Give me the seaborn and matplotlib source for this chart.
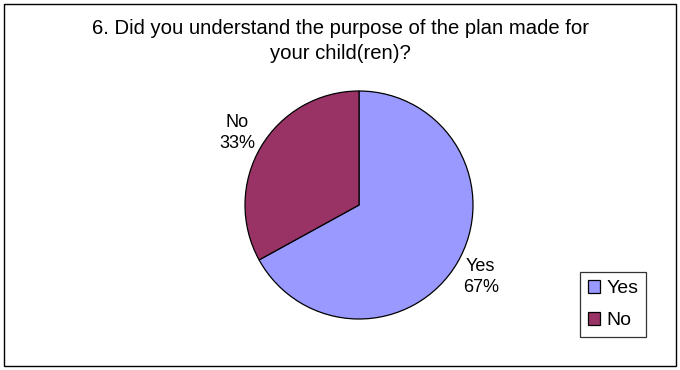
import matplotlib
matplotlib.use("Agg")
import matplotlib.pyplot as plt
import seaborn as sns
from matplotlib.patches import Rectangle

categories = ["Yes", "No"]
values = [67, 33]
colors = ["#9999FF", "#993366"]
title = "6. Did you understand the purpose of the plan made for\nyour child(ren)?"

sns.set_theme(style="white")
plt.rcParams['font.family'] = ['Liberation Sans', 'DejaVu Sans']
plt.rcParams['text.color'] = 'black'

fig = plt.figure(figsize=(6.8, 3.7), dpi=100)
fig.patch.set_facecolor("white")
fig.patches.append(Rectangle((4/680, 4/370), 672/680, 362/370, transform=fig.transFigure,
                             fill=False, edgecolor="black", linewidth=1))

ax = fig.add_axes([245/680, 51/370, 228/680, 228/370])
labels = [f"{c}\n{v}%" for c, v in zip(categories, values)]
wedges, texts = ax.pie(values, labels=labels, colors=colors, startangle=90, counterclock=False,
                       labeldistance=1.24,
                       wedgeprops=dict(edgecolor="black", linewidth=0.9))
for t in texts:
    t.set_ha("center")
    t.set_va("center")
    t.set_multialignment("center")
    t.set_fontsize(13)
    t.set_color("black")
    t.set_linespacing(1.3)
ax.set_xlim(-1, 1)
ax.set_ylim(-1, 1)
ax.set_aspect("equal")

fig.text(340/680, 1 - 41/370, title, ha="center", va="center", fontsize=14.6,
         linespacing=1.45, color="black")

leg = fig.legend(wedges, categories, loc="upper left", bbox_to_anchor=(580/680, 1 - 272/370),
                 frameon=True, fancybox=False, edgecolor="black", fontsize=14,
                 handlelength=0.65, handleheight=0.65, handletextpad=0.3, labelspacing=0.75,
                 borderpad=0.4, borderaxespad=0)
leg.get_frame().set_linewidth(0.9)
for t in leg.get_texts():
    t.set_color("black")

fig.savefig("out.png", dpi=100, facecolor="white")
